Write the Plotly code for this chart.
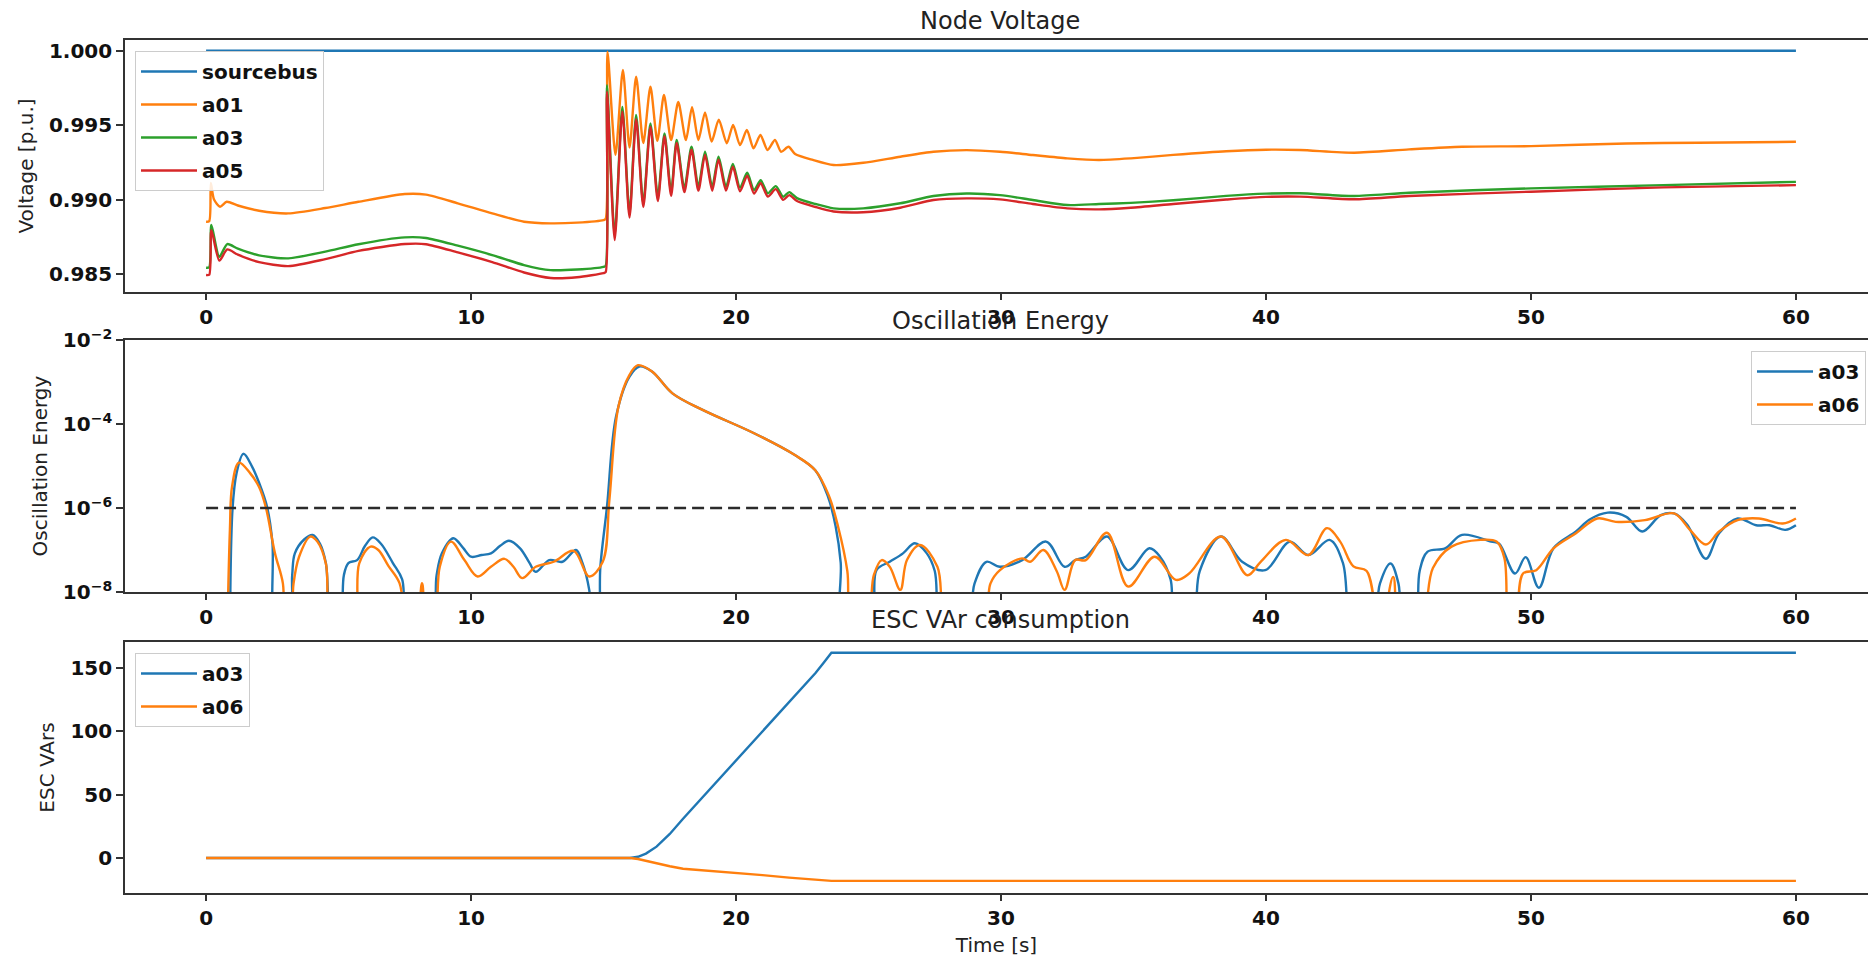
import numpy as np
import plotly.graph_objects as go

# ---------------- Panel 1: Node Voltage ----------------
t_src = [0.0, 60.0]
v_sourcebus = [1.0, 1.0]

t_a01 = [0.0, 0.12, 0.18, 0.30, 0.53, 0.78, 1.2, 2.0, 3.1, 4.5, 5.75, 7.5, 8.3, 9.5, 10.8, 12.0, 13.0, 14.0, 15.0, 15.08,
         15.15, 15.45, 15.73, 15.98, 16.23, 16.50, 16.77, 17.03, 17.28, 17.55, 17.82, 18.11, 18.34, 18.58, 18.83,
         19.08, 19.35, 19.65, 19.89, 20.15, 20.41, 20.66, 20.92, 21.19, 21.47, 21.70, 21.98, 22.23, 22.9, 23.68,
         24.8, 26.2, 27.45, 28.7, 29.96, 31.2, 32.5, 33.7, 34.9, 36.5, 38.5, 40.0, 41.28, 43.33, 45.4, 47.4, 50.0,
         53.6, 56.3, 60.0]
v_a01 = [0.98851, 0.98855, 0.99111, 0.99000, 0.98952, 0.98985, 0.98960, 0.98925, 0.98907, 0.98943, 0.98985, 0.99037,
         0.99033, 0.98975, 0.98907, 0.98851, 0.98840, 0.98845, 0.98862, 0.98870,
         0.99993, 0.99300, 0.99870, 0.99350, 0.99825, 0.99380, 0.99758, 0.99395, 0.99702, 0.99400, 0.99655, 0.99400,
         0.99620, 0.99400, 0.99585, 0.99389, 0.99537, 0.99378, 0.99501, 0.99366, 0.99467, 0.99344, 0.99434, 0.99333,
         0.99400, 0.99321, 0.99355, 0.99306, 0.99266, 0.99232,
         0.99247, 0.99288, 0.99321, 0.99332, 0.99321, 0.99299, 0.99277, 0.99266, 0.99277, 0.99300, 0.99325, 0.99335,
         0.99333, 0.99315, 0.99337, 0.99355, 0.99359, 0.99377, 0.99382, 0.99388]

t_a03 = [0.0, 0.12, 0.2, 0.5, 0.8, 1.2, 2.0, 3.1, 4.5, 5.75, 7.5, 8.3, 9.5, 10.8, 12.0, 13.0, 14.0, 15.0, 15.08,
         15.13, 15.42, 15.71, 15.98, 16.23, 16.5, 16.77, 17.05, 17.3, 17.55, 17.76, 18.05, 18.32, 18.58, 18.83,
         19.1, 19.34, 19.62, 19.88, 20.15, 20.42, 20.68, 20.93, 21.2, 21.50, 21.78, 22.01, 22.3, 23.0, 23.68,
         24.8, 26.2, 27.45, 28.7, 29.96, 31.2, 32.5, 33.7, 34.9, 36.5, 38.5, 40.0, 41.28, 43.33, 45.4, 50.0, 55.0,
         60.0]
v_a03 = [0.98542, 0.98545, 0.98829, 0.98616, 0.98701, 0.98670, 0.98625, 0.98605, 0.98650, 0.98700, 0.98746, 0.98742,
         0.98690, 0.98627, 0.98560, 0.98526, 0.98530, 0.98548, 0.98555,
         0.99769, 0.98762, 0.99623, 0.98907, 0.99568, 0.98974, 0.99512, 0.99019, 0.99445, 0.99053, 0.99400, 0.99075,
         0.99355, 0.99086, 0.99322, 0.99086, 0.99288, 0.99086, 0.99240, 0.99080, 0.99180, 0.99064, 0.99130, 0.99042,
         0.99090, 0.99019, 0.99050, 0.99010, 0.98970, 0.98941,
         0.98941, 0.98975, 0.99024, 0.99041, 0.99030, 0.98997, 0.98963, 0.98970, 0.98978, 0.98995, 0.99025, 0.99040,
         0.99042, 0.99024, 0.99046, 0.99075, 0.99097, 0.99119]

t_a05 = t_a03
v_a05 = [0.98493, 0.98495, 0.98795, 0.98590, 0.98665, 0.98630, 0.98580, 0.98553, 0.98600, 0.98655, 0.98701, 0.98700,
         0.98645, 0.98580, 0.98510, 0.98473, 0.98478, 0.98506, 0.98512,
         0.99724, 0.98728, 0.99590, 0.98880, 0.99540, 0.98950, 0.99490, 0.98990, 0.99425, 0.99025, 0.99380, 0.99050,
         0.99335, 0.99060, 0.99300, 0.99060, 0.99268, 0.99060, 0.99220, 0.99055, 0.99160, 0.99040, 0.99110, 0.99020,
         0.99070, 0.98998, 0.99030, 0.98990, 0.98950, 0.98920,
         0.98915, 0.98945, 0.98997, 0.99008, 0.99001, 0.98970, 0.98941, 0.98934, 0.98945, 0.98970, 0.99000, 0.99018,
         0.99020, 0.99002, 0.99024, 0.99053, 0.99082, 0.99097]

# ---------------- Panel 2: Oscillation Energy (log10 of energy) ----------------
t_osc_a03 = [0.90, 1.0, 1.15, 1.41, 1.74, 2.0, 2.30, 2.5, 2.67,
             3.14, 3.25, 3.35, 3.7, 4.02, 4.3, 4.52, 4.78,
             5.03, 5.2, 5.37, 5.70, 6.0, 6.29, 6.6, 7.05, 7.4, 7.64,
             8.48, 8.7, 8.9, 9.33, 9.7, 10.0, 10.4, 10.75, 11.1, 11.43, 11.85, 12.2, 12.44, 12.95, 13.45, 13.96, 14.2,
             14.46, 14.6,
             14.77, 14.88, 15.13, 15.47, 15.98, 16.35, 16.83, 17.6, 18.76, 20.68, 22.22, 22.99, 23.47, 23.76, 23.95,
             24.05,
             25.1, 25.3, 25.8, 26.3, 26.75, 27.2, 27.5, 27.8,
             28.7, 29.0, 29.45, 29.96, 30.8, 31.7, 32.4, 32.8, 33.2, 34.0, 34.8, 35.6, 36.0, 36.4, 36.6,
             37.2, 37.5, 38.3, 39.1, 39.97, 40.9, 41.6, 42.4, 42.9, 43.3,
             44.0, 44.3, 44.7, 45.0, 45.2,
             45.6, 45.8, 46.1, 46.76, 47.4, 48.5, 48.8, 49.4, 49.8, 50.3, 50.85, 51.7, 52.2, 52.9, 53.6, 54.2, 54.9,
             55.4, 55.9, 56.6, 57.1, 57.8, 58.5, 59.0, 59.6, 60.0]
log_osc_a03 = [-9, -6.0, -5.17, -4.71, -5.02, -5.4, -5.97, -6.8, -9,
               -9, -7.6, -7.08, -6.75, -6.64, -6.85, -7.31, -9,
               -9, -7.6, -7.31, -7.24, -6.9, -6.70, -6.85, -7.31, -7.7, -9,
               -9, -7.6, -7.08, -6.72, -6.95, -7.16, -7.12, -7.08, -6.9, -6.78, -6.96, -7.3, -7.52, -7.24, -7.28,
               -7.0, -7.3, -7.95, -9,
               -9, -7.4, -5.97, -3.83, -2.87, -2.63, -2.75, -3.27, -3.67, -4.22, -4.74, -5.10, -5.73, -6.44, -7.3,
               -9,
               -9, -7.48, -7.28, -7.08, -6.84, -7.08, -7.5, -9,
               -9, -7.8, -7.28, -7.40, -7.24, -6.80, -7.40, -7.24, -7.16, -6.68, -7.48, -6.96, -7.16, -7.7, -9,
               -9, -7.5, -6.68, -7.28, -7.48, -6.80, -7.12, -6.76, -7.3, -9,
               -9, -7.8, -7.32, -7.8, -9,
               -9, -7.5, -7.04, -6.96, -6.64, -6.80, -6.85, -7.56, -7.17, -7.9, -6.96, -6.56, -6.28, -6.11, -6.21,
               -6.56, -6.17, -6.13, -6.4, -7.21, -6.60, -6.25, -6.41, -6.41, -6.52, -6.41]

t_osc_a06 = [0.8, 0.9, 0.98, 1.24, 1.66, 2.0, 2.25, 2.6, 2.9, 3.0,
             3.17, 3.3, 3.51, 3.93, 4.2, 4.52, 4.78,
             5.55, 5.78, 6.21, 6.5, 6.88, 7.3, 7.64,
             7.9, 8.15, 8.37,
             8.6, 8.82, 9.24, 9.75, 10.25, 10.75, 11.26, 11.6, 11.93, 12.44, 13.12, 13.87, 14.46, 14.97, 15.22, 15.56,
             15.98, 16.3, 16.83, 17.6, 18.76, 20.68, 22.22, 22.99, 23.5, 23.85, 24.2, 24.38,
             24.9, 25.2, 25.5, 25.8, 26.2, 26.45, 26.94, 27.6, 28.0,
             29.3, 29.6, 29.96, 30.8, 31.1, 31.6, 32.1, 32.4, 32.8, 33.2, 34.0, 34.8, 35.8, 36.6, 37.1, 38.3, 39.3,
             39.8, 40.75, 41.6, 42.3, 42.8, 43.3, 43.8, 44.3,
             44.8, 45.1,
             45.8, 46.3, 47.0, 48.1, 48.7, 49.0, 49.2,
             49.4, 49.7, 50.2, 50.85, 51.7, 52.5, 53.2, 54.3, 55.4, 56.0, 56.6, 57.1, 57.8, 58.6, 59.5, 60.0]
log_osc_a06 = [-9, -6.5, -5.49, -4.92, -5.17, -5.5, -5.97, -7.08, -7.8, -9,
               -9, -7.8, -7.16, -6.68, -6.8, -7.32, -9,
               -9, -7.32, -6.92, -7.0, -7.38, -7.79, -9,
               -9, -7.79, -9,
               -9, -7.40, -6.80, -7.24, -7.63, -7.40, -7.21, -7.4, -7.67, -7.40, -7.28, -7.02, -7.63, -7.28, -5.81,
               -3.59, -2.83, -2.6, -2.75, -3.27, -3.67, -4.22, -4.74, -5.10, -5.7, -6.44, -7.5, -9,
               -9, -7.6, -7.24, -7.40, -7.95, -7.24, -6.88, -7.40, -9,
               -9, -7.8, -7.48, -7.20, -7.28, -7.0, -7.5, -7.95, -7.24, -7.24, -6.59, -7.87, -7.16, -7.71, -7.56,
               -6.68, -7.6, -7.28, -6.76, -7.12, -6.48, -6.8, -7.39, -7.5, -9,
               -7.64, -9,
               -9, -7.43, -6.92, -6.76, -6.80, -7.2, -9,
               -9, -7.56, -7.48, -6.96, -6.60, -6.25, -6.33, -6.29, -6.13, -6.52, -6.87, -6.56, -6.29, -6.25, -6.37,
               -6.25]

t_threshold = [0.0, 60.0]
threshold = [1e-6, 1e-6]

# ---------------- Panel 3: ESC VAr consumption ----------------
t_esc = [0.0, 16.0, 16.3, 16.6, 17.0, 17.5, 18.0, 19.0, 20.0, 21.0, 22.0, 23.0, 23.3, 23.6, 60.0]
esc_a03 = [0.0, 0.0, 1.0, 3.5, 9.0, 19.0, 31.0, 54.0, 77.0, 100.0, 123.0, 146.0, 154.0, 162.0, 162.0]
esc_a06 = [0.0, 0.0, -0.8, -2.2, -4.5, -6.5, -8.5, -10.0, -11.5, -13.5, -15.5, -17.0, -17.5, -18.0, -18.0]

x_ticks = [0, 10, 20, 30, 40, 50, 60]

# ---------------- Figure ----------------
W, H = 1868, 957
C_BLUE, C_ORANGE, C_GREEN, C_RED = "#1f77b4", "#ff7f0e", "#2ca02c", "#d62728"
LW = 2.4
FONT = "DejaVu Sans"

fig = go.Figure()

def line(x, y, name, color, xa, ya, legend, shape="linear", show=True, dash=None, width=LW, smoothing=1.0):
    ln = dict(color=color, width=width, shape=shape, dash=dash)
    if shape == "spline":
        ln["smoothing"] = smoothing
    fig.add_trace(go.Scatter(
        x=x, y=y, name=name, mode="lines", xaxis=xa, yaxis=ya, legend=legend,
        legendgroup=name + legend, showlegend=show, hoverinfo="skip", line=ln))

line(t_src, v_sourcebus, "sourcebus", C_BLUE, "x", "y", "legend")
line(t_a01, v_a01, "a01", C_ORANGE, "x", "y", "legend", shape="spline", smoothing=0.7)
line(t_a03, v_a03, "a03", C_GREEN, "x", "y", "legend", shape="spline", smoothing=0.7)
line(t_a05, v_a05, "a05", C_RED, "x", "y", "legend", shape="spline", smoothing=0.7)

line(t_osc_a03, np.power(10.0, log_osc_a03), "a03", C_BLUE, "x2", "y2", "legend2", shape="spline")
line(t_osc_a06, np.power(10.0, log_osc_a06), "a06", C_ORANGE, "x2", "y2", "legend2", shape="spline")
line(t_threshold, threshold, "threshold", "#2b2b2b", "x2", "y2", "legend2", show=False, dash="12px,6px", width=2.6)

line(t_esc, esc_a03, "a03", C_BLUE, "x3", "y3", "legend3")
line(t_esc, esc_a06, "a06", C_ORANGE, "x3", "y3", "legend3")

x_left = 125 / W
def ydom(top, bottom):
    return [1 - bottom / H, 1 - top / H]

tickfont = dict(family=FONT, size=20, color="#111111", weight="bold")
axcommon = dict(showline=True, linecolor="#333333", linewidth=1.6, ticks="outside", ticklen=7,
                tickwidth=1.6, tickcolor="#333333", tickfont=tickfont, showgrid=False, zeroline=False,
                automargin=False)

xr = [-3.06, 62.72]
for i, (top, bottom) in enumerate([(40, 292), (340, 592), (642, 893)], start=1):
    sfx = "" if i == 1 else str(i)
    fig.layout["xaxis" + sfx] = dict(axcommon, domain=[x_left, 1.0], range=xr, tickvals=x_ticks,
                                     mirror=True, anchor="y" + sfx, ticklen=6)
    fig.layout["yaxis" + sfx] = dict(axcommon, domain=ydom(top, bottom), anchor="x" + sfx)

titlefont = dict(family=FONT, size=20, color="#222222")
fig.layout.yaxis.update(range=[0.98379, 1.00072], tickvals=[0.985, 0.990, 0.995, 1.000],
                        ticktext=["0.985", "0.990", "0.995", "1.000"],
                        title=dict(text="Voltage [p.u.]", font=titlefont, standoff=10))
fig.layout.yaxis2.update(type="log", range=[-8, -2], tickvals=[1e-8, 1e-6, 1e-4, 1e-2],
                         ticktext=["10<sup>−8</sup>", "10<sup>−6</sup>", "10<sup>−4</sup>", "10<sup>−2</sup>"],
                         title=dict(text="Oscillation Energy", font=titlefont, standoff=10))
fig.layout.yaxis3.update(range=[-27.6, 170.5], tickvals=[0, 50, 100, 150],
                         title=dict(text="ESC VArs", font=titlefont, standoff=10))
fig.layout.xaxis3.update(title=dict(text="Time [s]", font=titlefont, standoff=10))

legcommon = dict(font=dict(family=FONT, size=20, color="#111111", weight="bold"),
                 bgcolor="rgba(255,255,255,0.85)", bordercolor="#cccccc", borderwidth=1,
                 tracegroupgap=4, itemwidth=56)
fig.update_layout(
    legend=dict(legcommon, x=135 / W, xanchor="left", y=1 - 51 / H, yanchor="top"),
    legend2=dict(legcommon, x=1866 / W, xanchor="right", y=1 - 351 / H, yanchor="top"),
    legend3=dict(legcommon, x=135 / W, xanchor="left", y=1 - 653 / H, yanchor="top"),
)

titles = [("Node Voltage", 21), ("Oscillation Energy", 321), ("ESC VAr consumption", 620)]
for text, yc in titles:
    fig.add_annotation(text=text, xref="paper", yref="paper", x=1000 / W, y=1 - yc / H,
                       xanchor="center", yanchor="middle", showarrow=False,
                       font=dict(family=FONT, size=24, color="#222222"))

fig.update_layout(width=W, height=H, margin=dict(l=0, r=0, t=0, b=0, autoexpand=False),
                  paper_bgcolor="white", plot_bgcolor="white", showlegend=True,
                  font=dict(family=FONT))

fig.write_html("out.html", config={"displayModeBar": False},
               post_script="document.body.style.margin='0';document.body.style.overflow='hidden';")
